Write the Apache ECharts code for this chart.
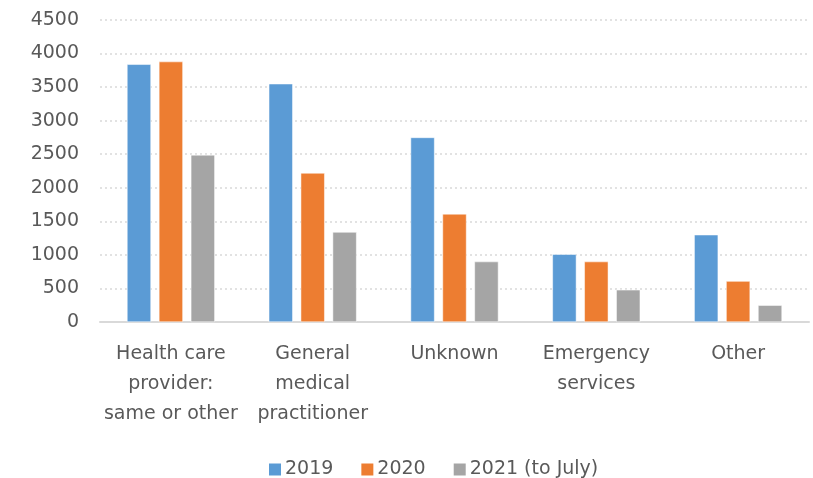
<!DOCTYPE html>
<html>
<head>
<meta charset="utf-8">
<script src="https://cdn.jsdelivr.net/npm/echarts@6/dist/echarts.min.js"></script>
<style>
html,body{margin:0;padding:0;background:#fff;}
#chart{width:813px;height:478px;}
</style>
</head>
<body>
<div id="chart"></div>
<script>
const categories = ["Health care\nprovider:\nsame or other", "General\nmedical\npractitioner", "Unknown", "Emergency\nservices", "Other"];
const seriesNames = ["2019", "2020", "2021 (to July)"];
const values2019 = [3840, 3550, 2750, 1010, 1300];
const values2020 = [3880, 2220, 1610, 900, 610];
const values2021 = [2490, 1340, 900, 480, 250];
const colors = ["#5B9BD5", "#ED7D31", "#A5A5A5"];

const font = "DejaVu Sans";
const chart = echarts.init(document.getElementById('chart'), null, {renderer: 'canvas'});
const dataSets = [values2019, values2020, values2021];
chart.setOption({
  animation: false,
  textStyle: {fontFamily: font},
  grid: {left: 100, right: 4, top: 20, bottom: 156},
  legend: {
    left: 262, top: 455,
    itemWidth: 14, itemHeight: 14, itemGap: 26,
    icon: 'rect',
    textStyle: {fontFamily: font, fontSize: 19, color: '#595959', padding: [0,0,0,-2]},
    data: seriesNames
  },
  xAxis: {
    type: 'category',
    data: categories,
    axisLine: {show: true, lineStyle: {color: '#D9D9D9', width: 2}},
    axisTick: {show: false},
    axisLabel: {fontFamily: font, fontSize: 19, color: '#595959', lineHeight: 30, margin: 17, interval: 0}
  },
  yAxis: {
    type: 'value',
    min: 0, max: 4500, interval: 500,
    axisLine: {show: false},
    axisTick: {show: false},
    axisLabel: {fontFamily: font, fontSize: 19, color: '#595959', margin: 21, formatter: v => String(v)},
    splitLine: {lineStyle: {color: '#D9D9D9', type: [2, 3], width: 1.5}}
  },
  series: dataSets.map((d, i) => ({
    name: seriesNames[i],
    type: 'bar',
    data: d,
    barWidth: 24,
    barGap: '33%',
    itemStyle: {color: colors[i], borderColor: '#ffffff', borderWidth: 0.5}
  }))
});
</script>
</body>
</html>
